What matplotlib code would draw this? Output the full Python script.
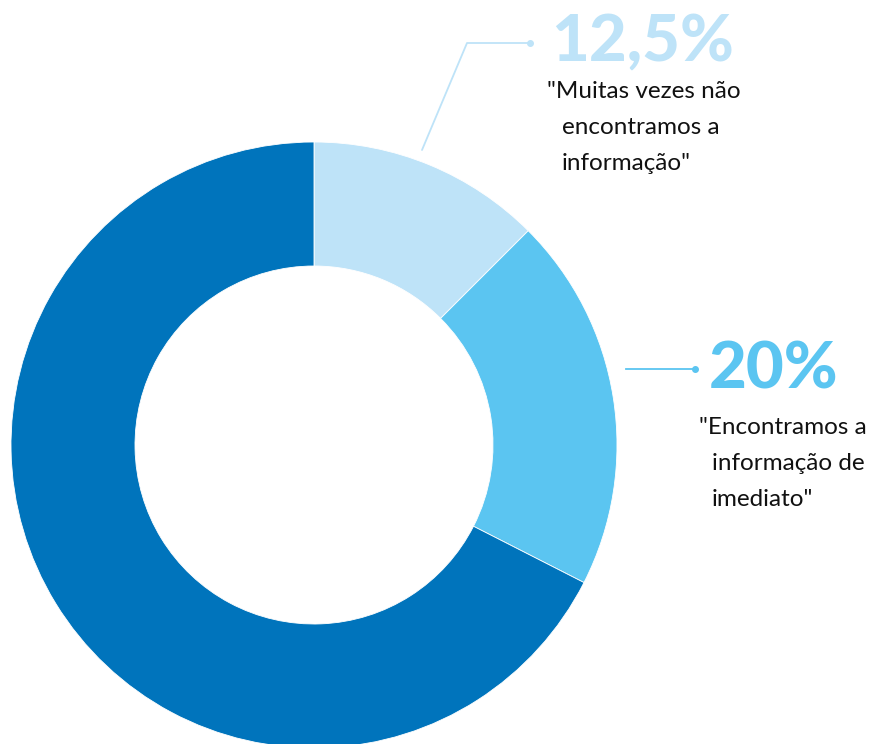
import matplotlib.pyplot as plt

# ================= DATA =================
SHARES = [12.5, 20.0, 67.5]
PCT_LABELS = ["12,5%", "20%", None]
QUOTES = [
    ['"Muitas vezes não', "encontramos a", 'informação"'],
    ['"Encontramos a', "informação de", 'imediato"'],
]
COLORS = ["#bee3f8", "#5bc5f1", "#0074bc"]

# ================= SETTINGS =================
W, H = 873, 744
FONT = "Lato"


def py(y):
    # image pixel row -> data y (y up)
    return H - y


fig = plt.figure(figsize=(W / 100, H / 100), dpi=100)
ax = fig.add_axes([0, 0, 1, 1])

ax.pie(SHARES, colors=COLORS, startangle=90, counterclock=False,
       center=(314, py(445)), radius=303,
       wedgeprops=dict(width=124, edgecolor="white", linewidth=0.6))

ax.set_xlim(0, W)
ax.set_ylim(0, H)
ax.set_aspect("equal")
ax.axis("off")

# leader lines
ax.plot([422, 467, 530], [py(150), py(43), py(43)], color=COLORS[0], lw=1.3,
        solid_capstyle="round")
ax.plot([530], [py(43)], "o", color=COLORS[0], ms=4)
ax.plot([626, 695], [py(369), py(369)], color=COLORS[1], lw=1.3)
ax.plot([695], [py(369)], "o", color=COLORS[1], ms=4)

# big percentages
ax.text(551, py(43), PCT_LABELS[0], color=COLORS[0], fontsize=47,
        fontweight="black", family=FONT, ha="left", va="center")
ax.text(709, py(370), PCT_LABELS[1], color=COLORS[1], fontsize=47,
        fontweight="black", family=FONT, ha="left", va="center")

# quote blocks
for lines, (x0, x1, y0) in zip(QUOTES, [(547, 562, 92), (699, 712, 428)]):
    for i, line in enumerate(lines):
        ax.text(x0 if i == 0 else x1, py(y0 + i * 36), line, color="#111111",
                fontsize=17.5, family=FONT, ha="left", va="center")

fig.savefig("out.png", dpi=100)
